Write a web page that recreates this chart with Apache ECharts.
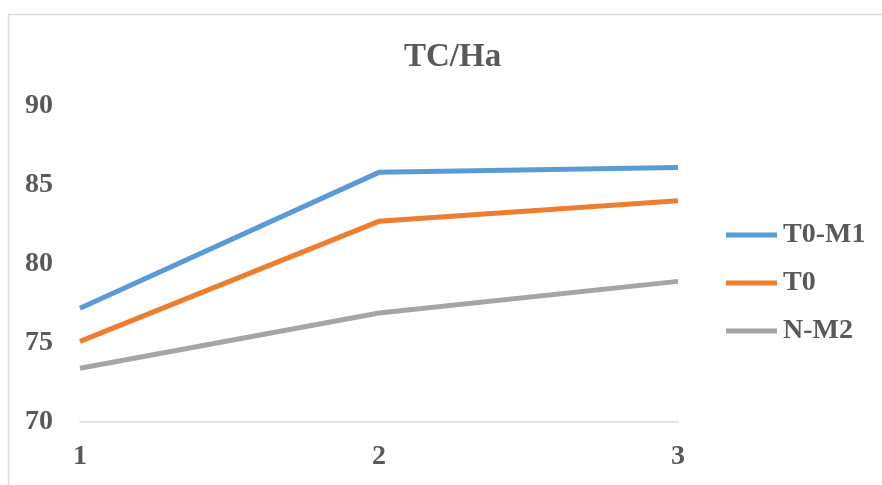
<!DOCTYPE html>
<html>
<head>
<meta charset="utf-8">
<title>TC/Ha</title>
<script src="https://cdn.jsdelivr.net/npm/echarts@6/dist/echarts.min.js"></script>
<style>
  html, body { margin: 0; padding: 0; background: #ffffff; }
  #chart { width: 882px; height: 485px; }
</style>
</head>
<body>
<div id="chart"></div>
<script>
// Categories along the x axis
const categories = ['1', '2', '3'];

// Series values
const seriesNames = ['T0-M1', 'T0', 'N-M2'];
const valuesT0M1 = [77.2, 85.8, 86.1];
const valuesT0 = [75.1, 82.7, 84.0];
const valuesNM2 = [73.4, 76.9, 78.9];

// Value axis range
const yMin = 70;
const yMax = 90;
const yStep = 5;

const colors = ['#5B9BD5', '#ED7D31', '#A5A5A5'];
const serif = "'Liberation Serif', 'Times New Roman', serif";
const textColor = '#595959';

const chart = echarts.init(document.getElementById('chart'), null, { renderer: 'canvas' });

function lineSeries(name, data, color) {
  return {
    name: name,
    type: 'line',
    data: data,
    showSymbol: false,
    symbol: 'none',
    smooth: false,
    lineStyle: { color: color, width: 5, cap: 'butt', join: 'miter' },
    itemStyle: { color: color },
    emphasis: { disabled: true }
  };
}

chart.setOption({
  animation: false,
  backgroundColor: '#ffffff',
  graphic: [{
    type: 'rect',
    left: 6,
    top: 12,
    shape: { width: 1000, height: 1000 },
    style: { fill: 'none', stroke: '#D9D9D9', lineWidth: 1.5 },
    silent: true
  }],
  title: {
    text: 'TC/Ha',
    left: 399,
    top: 36,
    textStyle: {
      fontFamily: serif,
      fontWeight: 'bold',
      fontSize: 33,
      color: textColor
    }
  },
  legend: {
    orient: 'vertical',
    left: 726,
    top: 221,
    padding: 0,
    icon: 'rect',
    itemWidth: 51,
    itemHeight: 5,
    itemGap: 20,
    data: seriesNames,
    textStyle: {
      fontFamily: serif,
      fontWeight: 'bold',
      fontSize: 28,
      lineHeight: 28,
      color: textColor,
      padding: [0, 0, 0, 1]
    }
  },
  grid: {
    left: 80,
    right: 204,
    top: 106,
    bottom: 63,
    containLabel: false
  },
  xAxis: {
    type: 'category',
    data: categories,
    boundaryGap: false,
    axisLine: { show: true, lineStyle: { color: '#D9D9D9', width: 1.5 } },
    axisTick: { show: false },
    splitLine: { show: false },
    axisLabel: {
      margin: 21,
      fontFamily: serif,
      fontWeight: 'bold',
      fontSize: 28,
      color: textColor
    }
  },
  yAxis: {
    type: 'value',
    min: yMin,
    max: yMax,
    interval: yStep,
    axisLine: { show: false },
    axisTick: { show: false },
    splitLine: { show: false },
    axisLabel: {
      margin: 27,
      fontFamily: serif,
      fontWeight: 'bold',
      fontSize: 28,
      color: textColor
    }
  },
  series: [
    lineSeries(seriesNames[0], valuesT0M1, colors[0]),
    lineSeries(seriesNames[1], valuesT0, colors[1]),
    lineSeries(seriesNames[2], valuesNM2, colors[2])
  ]
});
</script>
</body>
</html>
